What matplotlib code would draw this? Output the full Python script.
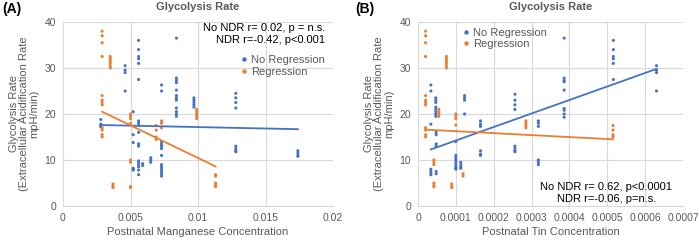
import matplotlib
matplotlib.use("Agg")
import matplotlib.pyplot as plt
from matplotlib.lines import Line2D

plt.rcParams['font.family'] = ['Liberation Sans', 'DejaVu Sans']

BLUE = '#4472C4'
ORANGE = '#ED7D31'
GRAY = '#595959'

# ---------------- Panel A data (Manganese) ----------------
a_blue_x = [0.0028]*4 + [0.0046]*4 + [0.0052]*6 + [0.0056]*6 + [0.0056]*12 + [0.0059]*2 \
    + [0.0065]*3 + [0.0073]*2 + [0.0073]*11 + [0.0084]*12 + [0.0097]*5 + [0.0128]*8 + [0.0174]*4
a_blue_y = [18.8, 17.8, 17.5, 17.2,
            30.5, 29.5, 29.0, 25.0,
            20.5, 15.5, 13.8, 8.2, 8.0, 7.8,
            36.0, 34.0, 32.5, 32.0, 31.0, 27.5,
            18.5, 18.0, 17.5, 16.0, 13.5, 13.0, 9.8, 9.5, 9.0, 8.5, 7.8, 6.8,
            9.2, 8.8,
            10.5, 10.0, 9.5,
            26.3, 25.0,
            14.0, 13.5, 13.0, 12.5, 11.0, 9.0, 8.5, 8.0, 7.5, 7.0, 6.5,
            36.5, 27.8, 27.3, 26.8, 25.2, 24.0, 23.5, 23.0, 21.3, 20.5, 20.0, 19.5,
            23.5, 23.0, 22.5, 22.0, 21.5,
            24.5, 23.5, 22.5, 21.3, 13.0, 12.5, 12.0, 11.8,
            12.0, 11.5, 11.0, 10.8]
a_orng_x = [0.0029]*12 + [0.0035]*6 + [0.0037]*3 + [0.0050]*8 + [0.0069]*4 + [0.0073]*3 \
    + [0.0099]*5 + [0.0113]*5
a_orng_y = [38.0, 37.0, 35.5, 32.5, 24.0, 23.0, 22.5, 22.0, 17.0, 16.5, 15.5, 15.0,
            32.5, 32.0, 31.5, 31.0, 30.5, 30.0,
            4.8, 4.3, 4.0,
            20.0, 19.5, 19.0, 18.0, 10.0, 9.5, 4.2, 4.0,
            17.5, 16.5, 15.0, 14.5,
            18.5, 18.0, 17.0,
            21.0, 20.5, 20.0, 19.5, 19.0,
            6.8, 6.5, 5.0, 4.5, 4.2]
a_blue_trend_x = [0.0028, 0.0174]
a_blue_trend_y = [17.6, 16.7]
a_orng_trend_x = [0.0029, 0.0113]
a_orng_trend_y = [20.5, 8.6]
a_xticks = [0, 0.005, 0.01, 0.015, 0.02]
a_xticklabels = ['0', '0.005', '0.01', '0.015', '0.02']

# ---------------- Panel B data (Tin) ----------------
b_blue_x = [0.000034]*5 + [0.000034]*2 + [0.000047]*8 + [0.000048]*6 + [0.000123]*4 \
    + [0.0001]*9 + [0.000113]*4 + [0.000165]*6 + [0.000256]*8 + [0.000318]*6 \
    + [0.000386]*9 + [0.000516]*6 + [0.00063]*4
b_blue_y = [17.8, 8.0, 7.5, 7.0, 6.8,
            26.3, 25.0,
            23.5, 23.0, 22.5, 21.5, 21.0, 20.5, 20.0, 19.5,
            16.0, 15.5, 13.5, 13.0, 7.5, 7.0,
            24.0, 23.5, 23.0, 20.0,
            14.0, 11.0, 10.5, 10.0, 9.5, 9.0, 8.5, 8.2, 8.0,
            9.5, 9.0, 8.5, 8.2,
            18.5, 17.8, 17.3, 12.0, 11.3, 11.0,
            24.3, 23.0, 22.0, 21.0, 13.0, 12.5, 12.0, 11.8,
            18.5, 18.0, 17.3, 10.0, 9.5, 9.0,
            36.5, 27.8, 27.3, 27.0, 25.2, 21.2, 20.8, 20.0, 19.3,
            36.0, 34.0, 32.5, 32.0, 31.0, 27.5,
            30.5, 29.5, 29.0, 25.0]
b_orng_x = [0.00002]*12 + [0.000075]*6 + [0.000042]*6 + [0.000055]*4 + [0.0001]*4 \
    + [0.000089]*3 + [0.000119]*2 + [0.000285]*4 + [0.000515]*4
b_orng_y = [38.0, 37.0, 35.5, 32.5, 24.0, 23.0, 22.5, 22.0, 17.0, 16.5, 15.5, 15.0,
            32.5, 32.0, 31.5, 31.0, 30.5, 30.0,
            10.0, 9.5, 9.0, 5.0, 4.5, 4.2,
            21.0, 20.5, 20.0, 19.5,
            20.0, 19.5, 19.0, 17.6,
            4.8, 4.3, 4.0,
            7.0, 6.5,
            18.5, 18.0, 17.5, 17.0,
            17.5, 16.5, 15.5, 15.0]
b_blue_trend_x = [0.000034, 0.00063]
b_blue_trend_y = [12.3, 29.8]
b_orng_trend_x = [0.00002, 0.000515]
b_orng_trend_y = [16.6, 14.5]
b_xticks = [0, 0.0001, 0.0002, 0.0003, 0.0004, 0.0005, 0.0006, 0.0007]
b_xticklabels = ['0', '0.0001', '0.0002', '0.0003', '0.0004', '0.0005', '0.0006', '0.0007']

yticks = [0, 10, 20, 30, 40]
ylabel = 'Glycolysis Rate\n(Extracellular Acidification Rate\nmpH/min)'
title = 'Glycolysis Rate'

fig = plt.figure(figsize=(6.99, 2.41), dpi=100)
axA = fig.add_axes([63/699, 1-206/241, 270/699, 184/241])
axB = fig.add_axes([418/699, 1-206/241, 265/699, 184/241])


def style(ax, xlim, xticks, xlabels, xlabel):
    ax.set_xlim(*xlim)
    ax.set_ylim(0, 40)
    ax.set_xticks(xticks)
    ax.set_xticklabels(xlabels)
    ax.set_yticks(yticks)
    ax.grid(True, color='#D9D9D9', lw=0.8)
    ax.set_axisbelow(True)
    for s in ['top', 'right', 'left']:
        ax.spines[s].set_visible(False)
    ax.spines['bottom'].set_color('#D9D9D9')
    ax.tick_params(length=0, labelsize=7.5, labelcolor=GRAY, pad=5)
    ax.set_xlabel(xlabel, fontsize=8, color=GRAY, labelpad=3)
    ax.set_ylabel(ylabel, fontsize=8, color=GRAY, labelpad=4, linespacing=1.0)
    ax.set_title(title, fontsize=8, fontweight='bold', color=GRAY, pad=9)


def draw(ax, bx, by, ox, oy, btx, bty, otx, oty):
    ax.scatter(bx, by, s=5, color=BLUE, edgecolors='none', zorder=3)
    ax.scatter(ox, oy, s=5, color=ORANGE, edgecolors='none', zorder=3)
    ax.plot(btx, bty, color=BLUE, lw=1.3, zorder=4)
    ax.plot(otx, oty, color=ORANGE, lw=1.3, zorder=4)


draw(axA, a_blue_x, a_blue_y, a_orng_x, a_orng_y,
     a_blue_trend_x, a_blue_trend_y, a_orng_trend_x, a_orng_trend_y)
style(axA, (0, 0.02), a_xticks, a_xticklabels, 'Postnatal Manganese Concentration')

draw(axB, b_blue_x, b_blue_y, b_orng_x, b_orng_y,
     b_blue_trend_x, b_blue_trend_y, b_orng_trend_x, b_orng_trend_y)
style(axB, (0, 0.0007), b_xticks, b_xticklabels, 'Postnatal Tin Concentration')

handles = [Line2D([], [], marker='o', ls='none', ms=2.2, color=BLUE, label='No Regression'),
           Line2D([], [], marker='o', ls='none', ms=2.2, color=ORANGE, label='Regression')]

# Panel A annotation + legend
axA.text(0.97, 0.995, 'No NDR r= 0.02, p = n.s.\nNDR r=-0.42, p<0.001',
         transform=axA.transAxes, ha='right', va='top', fontsize=8, color='black',
         linespacing=1.2)
axA.legend(handles=handles, loc='upper left', bbox_to_anchor=(0.63, 0.85),
           frameon=False, fontsize=8, handletextpad=0.1, borderpad=0,
           labelspacing=0.15, labelcolor=GRAY, handlelength=1.0)

# Panel B legend + annotation
axB.legend(handles=handles, loc='upper left', bbox_to_anchor=(0.14, 1.0),
           frameon=False, fontsize=8, handletextpad=0.1, borderpad=0,
           labelspacing=0.15, labelcolor=GRAY, handlelength=1.0)
axB.text(0.71, 0.07, 'No NDR r= 0.62, p<0.0001\nNDR r=-0.06, p=n.s.',
         transform=axB.transAxes, ha='center', va='center', fontsize=8, color='black',
         linespacing=1.2)

fig.text(2/699, 1-9/241, '(A)', fontsize=10, fontweight='bold', va='center', ha='left')
fig.text(355/699, 1-9/241, '(B)', fontsize=10, fontweight='bold', va='center', ha='left')

fig.savefig('out.png', dpi=100)
